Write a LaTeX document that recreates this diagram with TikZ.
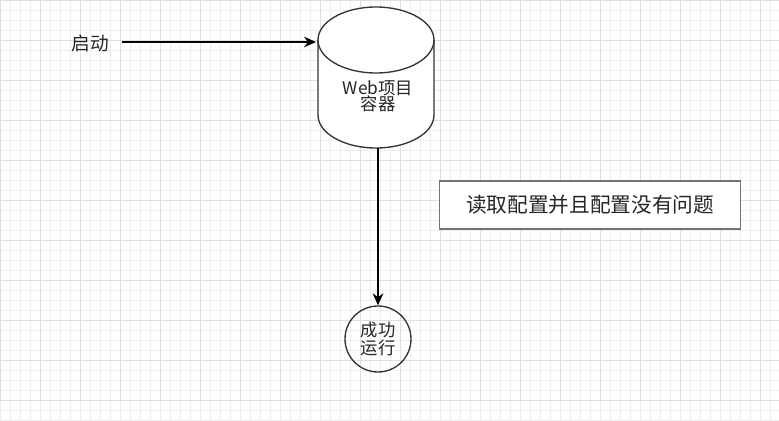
\documentclass[tikz,border=0pt]{standalone}
\usepackage{fontspec}
\newfontfamily\cjk{Noto Sans CJK SC}
\usetikzlibrary{arrows.meta,shapes.geometric}
\begin{document}
\begin{tikzpicture}[x=0.75pt,y=0.75pt,
  lbl/.style={font=\cjk\fontsize{13}{14}\selectfont,text=black!85},
  conn/.style={line width=1.2pt,-{Stealth[length=9pt,width=8pt,inset=3pt]}}]
\useasboundingbox (0,-421) rectangle (779,0);
\fill[white] (0,-421) rectangle (779,0);
\draw[black!7,line width=0.4pt,step=10] (0,-420) grid (779,0);
\draw[black!13,line width=0.5pt,step=40] (0,-400) grid (779,0);
% cylinder
\draw[black!80,fill=white,line width=1pt] (318,-40) -- (318,-115) arc[start angle=180,end angle=360,x radius=58,y radius=33] -- (434,-40) arc[start angle=0,end angle=180,x radius=58,y radius=33] -- cycle;
\draw[black!80,line width=1pt] (318,-40) arc[start angle=180,end angle=360,x radius=58,y radius=33];
\node[lbl,align=center,inner sep=0pt] (db) at (378,-96) {Web项目\\[-2pt]容器};
\coordinate (dbtop) at (316,-42);
\coordinate (dbbot) at (378,-148);
\node[lbl,font=\cjk\fontsize{14}{15}\selectfont] (start) at (90,-43) {启动};
\coordinate (s) at (122,-42);
\draw[conn] (s) -- (dbtop);
\node[circle,draw=black!80,line width=1pt,minimum size=49.5pt,lbl,align=center,inner sep=0pt] (ok) at (378,-339) {成功\\[0pt]运行};
\draw[conn] (dbbot) -- (ok.north);
\node[draw=black!55,line width=1.2pt,minimum width=226pt,minimum height=36pt,lbl,font=\cjk\fontsize{15.5}{17}\selectfont,fill=white] (note) at (590,-205) {读取配置并且配置没有问题};
\end{tikzpicture}
\end{document}
